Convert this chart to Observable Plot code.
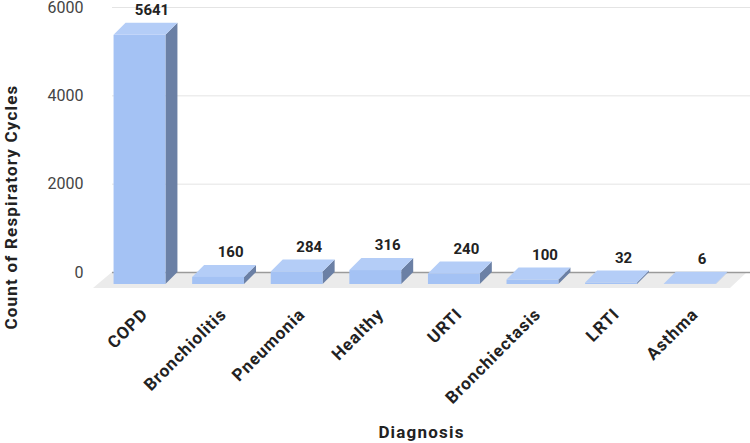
<!DOCTYPE html>
<html>
<head>
<meta charset="utf-8">
<script src="https://cdn.jsdelivr.net/npm/d3@7"></script>
<script src="https://cdn.jsdelivr.net/npm/@observablehq/plot@0.6"></script>
<style>
  html, body { margin: 0; padding: 0; background: #fff; }
  svg { display: block; font-family: Roboto, "Noto Sans", sans-serif; }
</style>
</head>
<body>
<div id="chart"></div>
<script>
// ---- data ----
const diagnoses = ["COPD", "Bronchiolitis", "Pneumonia", "Healthy", "URTI", "Bronchiectasis", "LRTI", "Asthma"];
const cycles = [5641, 160, 284, 316, 240, 100, 32, 6];
const yTicks = [0, 2000, 4000, 6000];
const xTitle = "Diagnosis";
const yTitle = "Count of Respiratory Cycles";

// ---- layout / style ----
const W = 750, H = 443;
const ML = 112, MR = 0, MT = 7, MB = 171;
const xDom = [-0.5025, 7.615];
const yDom = [0, 6000];
const DEPTH = 12;          // 3D depth in px
const HW = 0.33;           // half bar width in band units
const pxPerX = (W - ML - MR) / (xDom[1] - xDom[0]);
const pxPerY = (H - MB - MT) / (yDom[1] - yDom[0]);
const dX = DEPTH / pxPerX, dY = DEPTH / pxPerY;

const FRONT = "#a4c2f4", TOP = "#b4cdf7", SIDE = "#6b80a5";

const bars = diagnoses.map((d, i) => ({i, d, v: cycles[i]}));
const tops = bars.flatMap(b => [
  {i: b.i, y: b.v, x1: b.i - HW, x2: b.i + HW},
  {i: b.i, y: b.v - dY, x1: b.i - HW - dX, x2: b.i + HW - dX}
]);
const sides = bars.flatMap(b => [
  {i: b.i, x: b.i + HW - dX, y1: -dY, y2: b.v - dY},
  {i: b.i, x: b.i + HW, y1: 0, y2: b.v}
]);
const floor = [
  {y: 0, x1: xDom[0], x2: xDom[1] - 3 / pxPerX},
  {y: -16 / pxPerY, x1: xDom[0] - 19 / pxPerX, x2: xDom[1] - 20 / pxPerX}
];

const chart = Plot.plot({
  width: W, height: H,
  marginLeft: ML, marginRight: MR, marginTop: MT, marginBottom: MB,
  style: {fontFamily: "Roboto, sans-serif", background: "#fff"},
  x: {domain: xDom, axis: null},
  y: {domain: yDom, axis: null},
  marks: [
    Plot.areaX(floor, {y: "y", x1: "x1", x2: "x2", fill: "#ebebeb", curve: "linear"}),
    Plot.gridY(yTicks.filter(t => t !== 0), {stroke: "#e4e4e4", strokeOpacity: 1}),
    Plot.ruleY([0], {stroke: "#9a9a9a", strokeWidth: 1.5}),
    Plot.axisY({ticks: yTicks, tickSize: 0, tickPadding: 29, fontSize: 16, fill: "#444", label: null, tickFormat: d => String(d)}),
    Plot.areaY(sides, {x: "x", y1: "y1", y2: "y2", z: "i", fill: SIDE, curve: "linear"}),
    Plot.areaX(tops, {y: "y", x1: "x1", x2: "x2", z: "i", fill: TOP, curve: "linear"}),
    Plot.rect(bars, {x1: b => b.i - HW, x2: b => b.i + HW, y1: () => 0, y2: "v", dx: -DEPTH, dy: DEPTH, fill: FRONT}),
    Plot.text(bars, {x: "i", y: "v", text: b => String(b.v), dy: -13, fontWeight: "bold", fontSize: 15, fill: "#222"}),
    Plot.text(bars, {x: "i", y: () => 0, text: "d", rotate: -45, textAnchor: "end", dx: -DEPTH + 5, dy: DEPTH + 27, fontWeight: "bold", fontSize: 17, fill: "#222"}),
    Plot.text([yTitle], {frameAnchor: "left", textAnchor: "middle", rotate: -90, dx: -101, dy: 67, fontWeight: "bold", fontSize: 17, fill: "#222"}),
    Plot.text([xTitle], {frameAnchor: "bottom", textAnchor: "middle", dx: -10, dy: 165, fontWeight: "bold", fontSize: 17, fill: "#222"})
  ]
});
// wider letter spacing for the bold labels, as in the reference
d3.select(chart).selectAll("text").each(function () {
  const t = this.textContent;
  if (diagnoses.includes(t)) this.setAttribute("letter-spacing", "0.9");
  if (t === xTitle || t === yTitle) this.setAttribute("letter-spacing", "1.2");
});
document.getElementById("chart").appendChild(chart);
</script>
</body>
</html>
